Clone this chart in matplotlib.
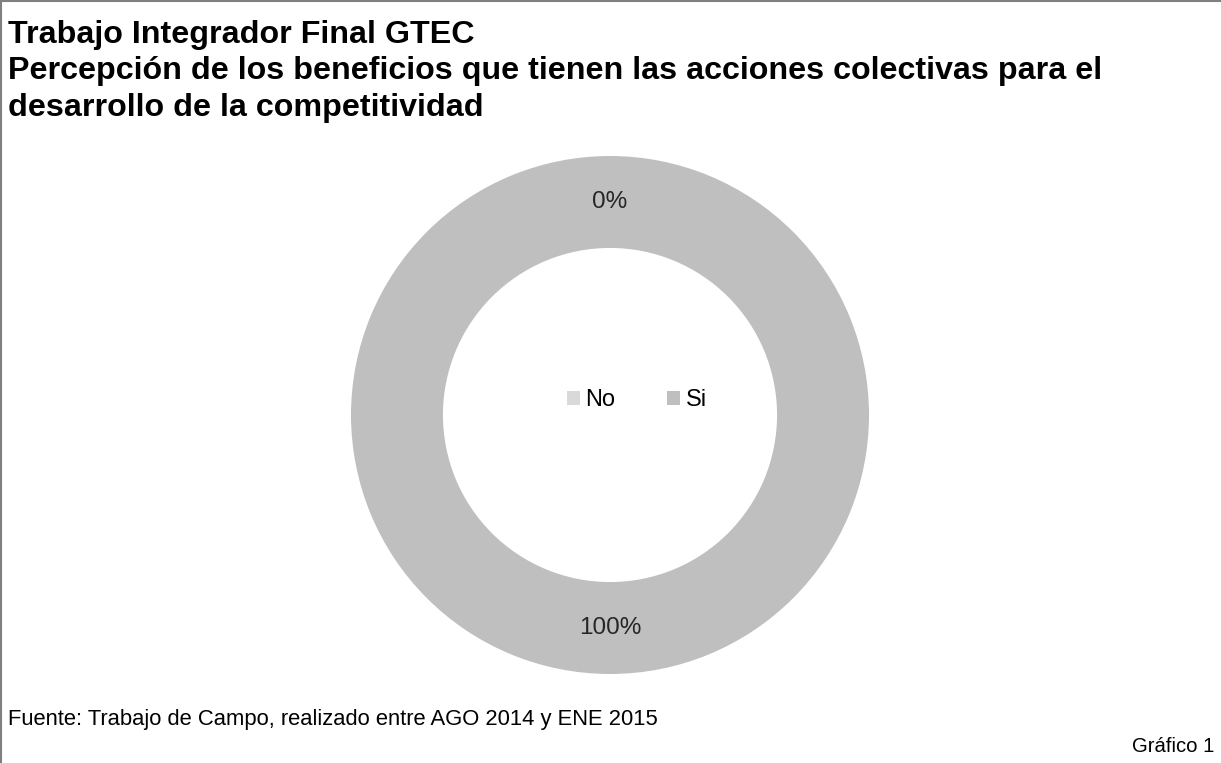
import matplotlib
matplotlib.use("Agg")
import matplotlib.pyplot as plt
from matplotlib.patches import Patch
from matplotlib.lines import Line2D

categories = ["No", "Si"]
values = [0, 100]
colors = ["#D9D9D9", "#BFBFBF"]

title_lines = ["Trabajo Integrador Final GTEC",
               "Percepción de los beneficios que tienen las acciones colectivas para el",
               "desarrollo de la competitividad"]
source = "Fuente: Trabajo de Campo, realizado entre AGO 2014 y ENE 2015"
figure_label = "Gráfico 1"

plt.rcParams['font.family'] = ['Liberation Sans', 'DejaVu Sans']

W, H = 1221, 763
fig = plt.figure(figsize=(W / 100, H / 100), dpi=100)

# border lines (left and top)
fig.add_artist(Line2D([0.5 / W, 0.5 / W], [0, 1], color="#808080", lw=1.5, transform=fig.transFigure))
fig.add_artist(Line2D([0, 1], [1 - 0.5 / H, 1 - 0.5 / H], color="#808080", lw=1.5, transform=fig.transFigure))

fig.text(8 / W, 1 - 20 / H, "\n".join(title_lines), ha="left", va="top",
         fontsize=23.2, fontweight="bold", color="#000000", linespacing=1.28)

# donut
cx, cy, r = 610, 415, 259
ax = fig.add_axes([(cx - r) / W, 1 - (cy + r) / H, 2 * r / W, 2 * r / H])
wedges, texts, autotexts = ax.pie(values, colors=colors, startangle=90, counterclock=False,
                                  radius=1.0, wedgeprops=dict(width=0.355, edgecolor="none"),
                                  autopct='%.0f%%', pctdistance=0.822,
                                  textprops=dict(fontsize=17.5, color="#262626"))
ax.set_aspect("equal")
ax.set_xlim(-1, 1)
ax.set_ylim(-1, 1)
ax.axis("off")

handles = [Patch(facecolor=c, edgecolor="none") for c in colors]
fig.legend(handles, categories, loc="center", bbox_to_anchor=(637 / W, 1 - 400 / H),
           ncol=2, frameon=False, fontsize=17, handlelength=0.55, handleheight=0.55,
           handletextpad=0.25, columnspacing=2.2)

fig.text(8 / W, 1 - 719 / H, source, ha="left", va="center", fontsize=15.8, color="#000000")
fig.text(1214 / W, 1 - 747 / H, figure_label, ha="right", va="center", fontsize=14.6, color="#000000")

fig.savefig("out.png", dpi=100)
